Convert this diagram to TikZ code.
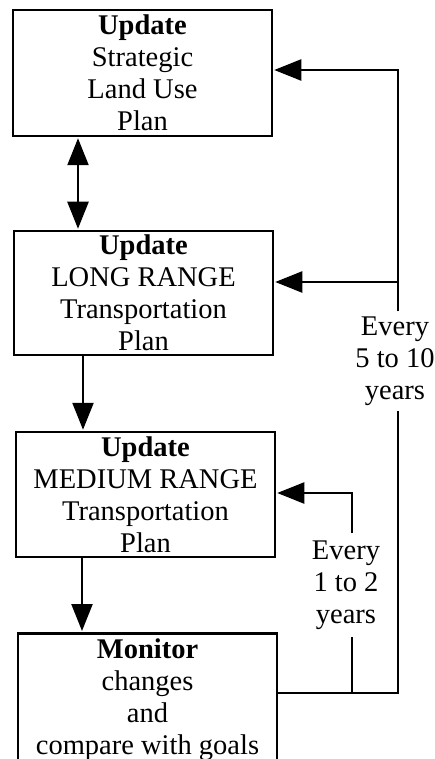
\documentclass[tikz,border=0pt]{standalone}
\usepackage{fontspec}
\setmainfont{Liberation Serif}
\usetikzlibrary{arrows.meta}
\begin{document}
\begin{tikzpicture}[x=1pt,y=-1pt,
  box/.style={draw, line width=2.5pt, minimum width=259pt, align=center,
    inner sep=0pt, font=\fontsize{28.5}{32}\selectfont},
  lbl/.style={align=center, inner sep=5pt, font=\fontsize{28.5}{32}\selectfont},
  link/.style={line width=2.3pt},
  bighead/.tip={Triangle[length=27pt,width=21pt]},
  arr/.style={link, -bighead, shorten >=1pt},
  dblarr/.style={link, bighead-bighead, shorten >=1pt, shorten <=1pt},
]
\useasboundingbox (0,0) rectangle (434,759);
\clip (0,0) rectangle (434,759);
\fill[white] (0,0) rectangle (434,759);

% plan boxes
\node[box, minimum height=126pt] (b1) at (142.5,73)
  {\textbf{Update}\\Strategic\\Land Use\\Plan};
\node[box, minimum height=124pt] (b2) at (143.5,293)
  {\textbf{Update}\\LONG RANGE\\Transportation\\Plan};
\node[box, minimum height=125pt] (b3) at (145.5,494.5)
  {\textbf{Update}\\MEDIUM RANGE\\Transportation\\Plan};
% monitoring box runs off the bottom edge
\node[box, anchor=north, minimum height=160pt] (b4) at (147.5,632) {};
\node[box, draw=none, anchor=north] (m4) at (147.5,637)
  {\textbf{Monitor}\\changes\\and\\compare with goals};

% feedback labels
\node[lbl] (t510) at (395,361) {Every\\5 to 10\\years};
\node[lbl, inner sep=7pt] (t12) at (346,585) {Every\\1 to 2\\years};

% helper coordinates for the feedback lines
\coordinate (xa) at (78,0);
\coordinate (xb) at (83,0);
\coordinate (xc) at (82,0);
\coordinate (xo) at (398,0);
\coordinate (xi) at (352,0);
\coordinate (y1) at (0,70);
\coordinate (y2) at (0,282);
\coordinate (y3) at (0,493);
\coordinate (y4) at (0,693);

% downward flow
\draw[dblarr] (xa |- b1.south) -- (xa |- b2.north);
\draw[arr] (xb |- b2.south) -- (xb |- b3.north);
\draw[arr] (xc |- b3.south) -- (xc |- b4.north);

% long-range loop
\draw[link] (b4.east |- y4) -- (xo |- y4) -- (xo |- t510.south);
\draw[arr] (xo |- t510.north) -- (xo |- y1) -- (b1.east |- y1);
\draw[arr] (xo |- y2) -- (b2.east |- y2);

% medium-range loop
\draw[link] (xi |- y4) -- (xi |- t12.south);
\draw[arr] (xi |- t12.north) -- (xi |- y3) -- (b3.east |- y3);
\end{tikzpicture}
\end{document}
